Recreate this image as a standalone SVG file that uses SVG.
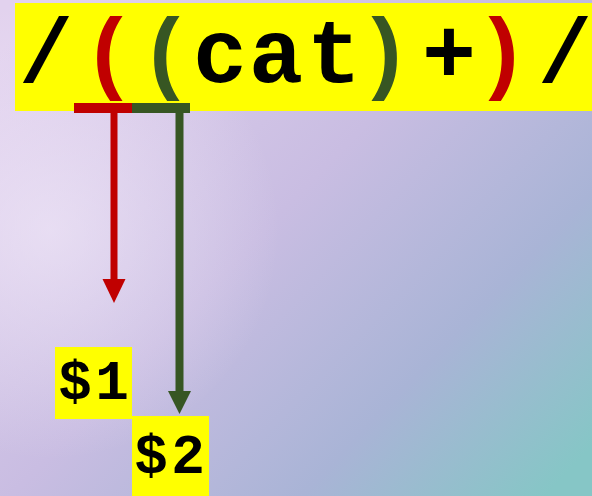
<svg xmlns="http://www.w3.org/2000/svg" width="592" height="496" viewBox="0 0 592 496">
  <defs>
    <linearGradient id="bg" x1="0" y1="0.1" x2="1" y2="0.9">
      <stop offset="0" stop-color="#e2d2ee"/>
      <stop offset="0.45" stop-color="#c9bde2"/>
      <stop offset="0.75" stop-color="#a9b4d6"/>
      <stop offset="1" stop-color="#86c6c6"/>
    </linearGradient>
    <radialGradient id="glow" cx="50" cy="230" r="230" gradientUnits="userSpaceOnUse">
      <stop offset="0" stop-color="#f4ecfa" stop-opacity="0.6"/>
      <stop offset="1" stop-color="#f4ecfa" stop-opacity="0"/>
    </radialGradient>
    <style>
      .hl { fill: #ffff00; }
      .mono { font-family: "Courier New", "Liberation Mono", monospace; font-weight: bold; fill: #000; text-anchor: middle; }
      .red { fill: #c00000; }
      .grn { fill: #375623; }
    </style>
  </defs>

  <!-- background -->
  <rect width="592" height="496" fill="url(#bg)"/>
  <rect width="592" height="496" fill="url(#glow)"/>

  <!-- regular expression, one glyph per column -->
  <g id="regex">
    <rect class="hl" x="15" y="3" width="577" height="108"/>
    <text class="mono" y="82" font-size="90"><tspan x="46">/</tspan><tspan class="red" x="109">(</tspan><tspan class="grn" x="166">(</tspan><tspan x="220">c</tspan><tspan x="276">a</tspan><tspan x="334">t</tspan><tspan class="grn" x="385">)</tspan><tspan x="449">+</tspan><tspan class="red" x="502">)</tspan><tspan x="565">/</tspan></text>
  </g>

  <!-- group brackets and arrows -->
  <g id="connectors">
    <rect class="red" x="74" y="103" width="58" height="10"/>
    <rect class="grn" x="132" y="103" width="58" height="10"/>
    <rect class="red" x="110.5" y="113" width="7" height="167"/>
    <polygon class="red" points="102.5,279 125.5,279 114,303"/>
    <rect class="grn" x="175.5" y="113" width="8" height="279"/>
    <polygon class="grn" points="168,391 191,391 179.5,414"/>
  </g>

  <!-- captured group labels -->
  <g id="g1">
    <rect class="hl" x="55" y="347" width="77" height="72"/>
    <text class="mono" y="399" font-size="56"><tspan x="75">$</tspan><tspan x="112">1</tspan></text>
  </g>
  <g id="g2">
    <rect class="hl" x="132" y="416" width="77" height="80"/>
    <text class="mono" y="473" font-size="56"><tspan x="151">$</tspan><tspan x="188">2</tspan></text>
  </g>
</svg>
